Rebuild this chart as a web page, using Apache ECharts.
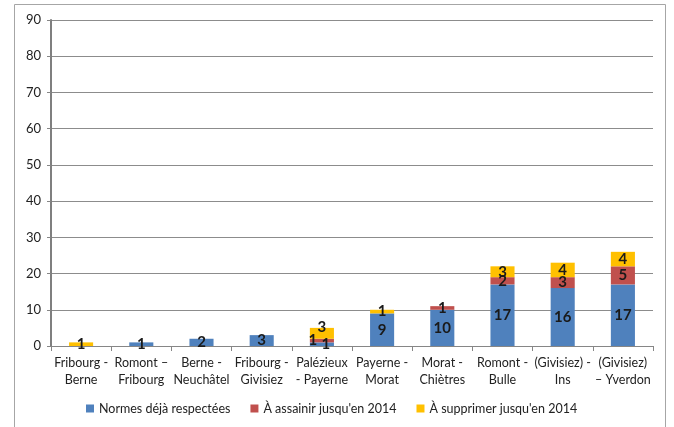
<!DOCTYPE html>
<html>
<head>
<meta charset="utf-8">
<script src="https://cdn.jsdelivr.net/npm/echarts@6/dist/echarts.min.js"></script>
<style>
  html, body { margin: 0; padding: 0; background: #fff; }
  #chart { width: 674px; height: 427px; }
</style>
</head>
<body>
<div id="chart"></div>
<script>
// categories (tronçons) and stacked counts
var categories = [
  'Fribourg -\nBerne', 'Romont –\nFribourg', 'Berne -\nNeuchâtel', 'Fribourg -\nGivisiez',
  'Palézieux\n- Payerne', 'Payerne -\nMorat', 'Morat -\nChiètres', 'Romont -\nBulle',
  '(Givisiez) -\nIns', '(Givisiez)\n– Yverdon'
];
var normesRespectees = [0, 1, 2, 3, 1, 9, 10, 17, 16, 17];
var aAssainir = [0, 0, 0, 0, 1, 0, 1, 2, 3, 5];
var aSupprimer = [1, 0, 0, 0, 3, 1, 0, 3, 4, 4];
var seriesNames = ['Normes déjà respectées', "À assainir jusqu'en 2014", "À supprimer jusqu'en 2014"];
var yTicks = { min: 0, max: 90, interval: 10 };

var FONT = 'Lato, "Noto Sans", sans-serif';
var COLORS = ['#4F81BD', '#C0504D', '#FFC000'];

// Palézieux labels are nudged apart like in the original
var nudges = { 0: { 4: [4, 0] }, 1: { 4: [-9, 0] }, 2: { 4: [0, -6] } };

function items(arr, si) {
  return arr.map(function (v, i) {
    var d = { value: v };
    if (nudges[si] && nudges[si][i]) { d.label = { offset: nudges[si][i] }; }
    return d;
  });
}

function barSeries(name, arr, si) {
  return {
    name: name,
    type: 'bar',
    stack: 'total',
    barWidth: '40%',
    itemStyle: { color: COLORS[si] },
    label: {
      show: true,
      position: 'inside',
      color: '#1a1a1a',
      fontFamily: FONT,
      fontWeight: 'bold',
      fontSize: 15,
      formatter: function (p) { return p.value ? String(p.value) : ''; }
    },
    data: items(arr, si)
  };
}

var chart = echarts.init(document.getElementById('chart'));
chart.setOption({
  animation: false,
  textStyle: { fontFamily: FONT },
  graphic: [{
    type: 'rect',
    shape: { x: 14.5, y: 4.5, width: 651, height: 440 },
    style: { fill: 'none', stroke: '#a6a6a6', lineWidth: 1 },
    silent: true
  }],
  grid: { left: 51, right: 21, top: 20, bottom: 81 },
  legend: {
    bottom: 7,
    left: 81,
    icon: 'rect',
    itemWidth: 8, itemHeight: 8, itemGap: 20,
    textStyle: { color: '#222', fontSize: 12.5, fontFamily: FONT },
    data: seriesNames
  },
  xAxis: {
    type: 'category',
    data: categories,
    axisLine: { lineStyle: { color: '#868686', width: 1 } },
    axisTick: { show: true, length: 5, lineStyle: { color: '#868686' } },
    axisLabel: { color: '#222', fontSize: 12.5, lineHeight: 17, margin: 8, interval: 0, fontFamily: FONT }
  },
  yAxis: {
    type: 'value',
    min: yTicks.min, max: yTicks.max, interval: yTicks.interval,
    axisLine: { show: true, lineStyle: { color: '#7f7f7f', width: 2 } },
    axisTick: { show: true, length: 4, inside: false, lineStyle: { color: '#868686' } },
    axisLabel: { color: '#222', fontSize: 13, margin: 10, fontFamily: FONT },
    splitLine: { lineStyle: { color: '#8c8c8c', width: 1 } }
  },
  series: [
    barSeries(seriesNames[0], normesRespectees, 0),
    barSeries(seriesNames[1], aAssainir, 1),
    barSeries(seriesNames[2], aSupprimer, 2)
  ]
});
</script>
</body>
</html>
